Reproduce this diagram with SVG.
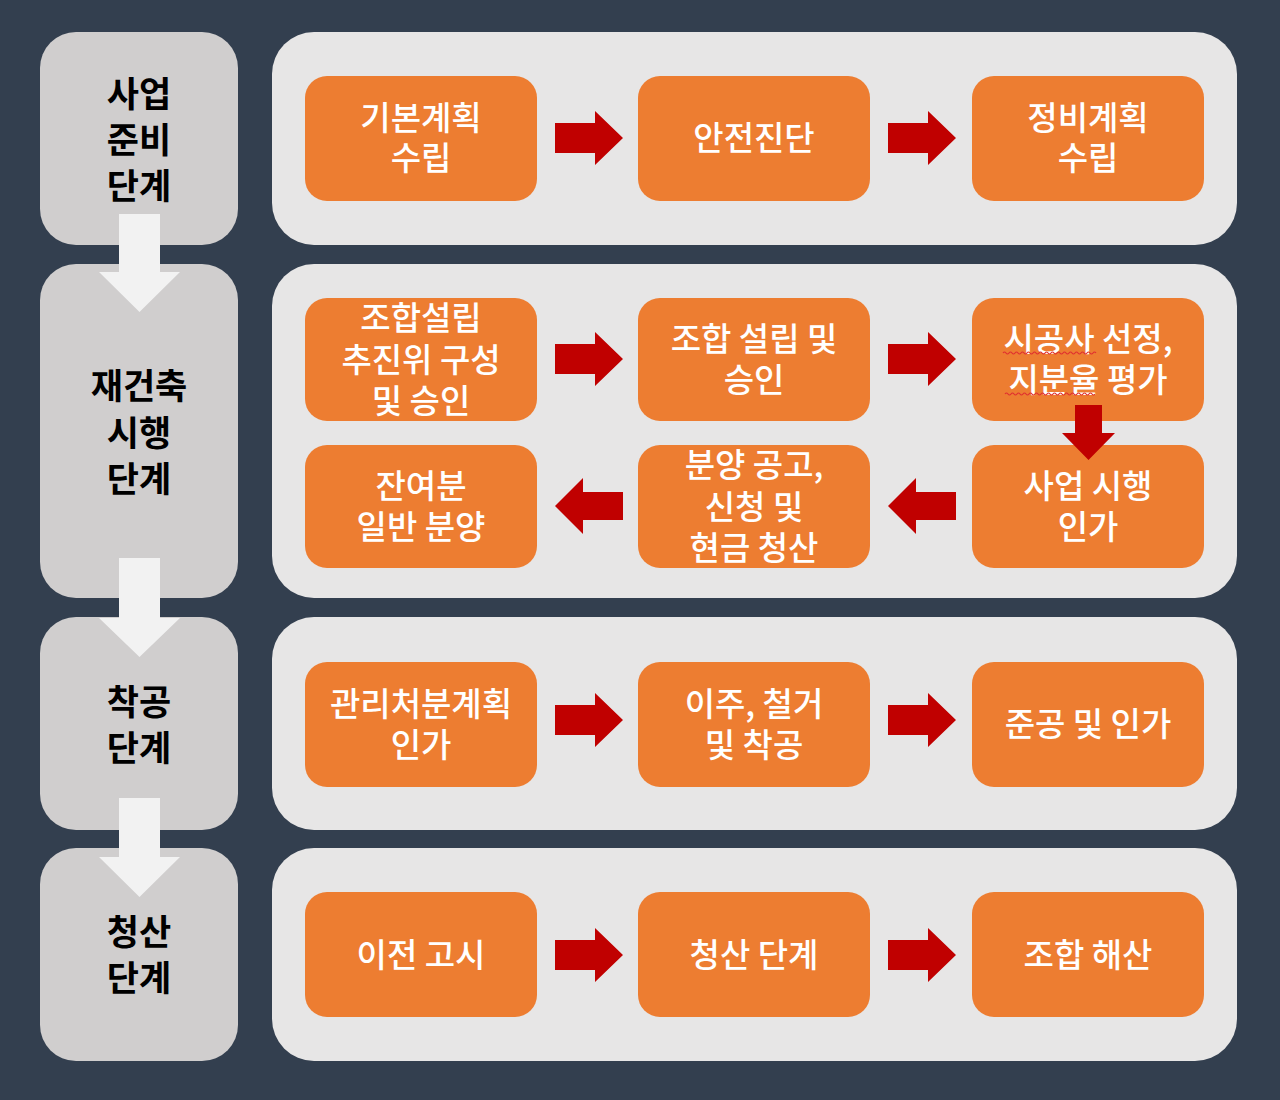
<svg xmlns="http://www.w3.org/2000/svg" width="1280" height="1100" viewBox="0 0 1280 1100">
<style>
.stage{fill:#d0cece}
.panel{fill:#e7e6e6}
.step{fill:#ed7d31}
.lbl{font-family:"Noto Sans CJK KR","Noto Sans",sans-serif;font-weight:700;font-size:35px;fill:#000;text-anchor:middle;dominant-baseline:central}
.txt{font-family:"Noto Sans CJK KR","Noto Sans",sans-serif;font-weight:500;font-size:33px;fill:#fff;text-anchor:middle;dominant-baseline:central}
.red{fill:#c00000}
.gray{fill:#f2f2f2}
.wavy{fill:none;stroke:#e03030;stroke-width:1.2}
</style>
<defs>
<path id="ar" d="M0,-15 H40 V-27 L68,0 L40,27 V15 H0 Z"/>
<path id="al" d="M68,-14 H28 V-28 L0,0 L28,28 V14 H68 Z"/>
</defs>
<rect width="1280" height="1100" fill="#333f4f"/>

<g id="stage-1"><rect class="stage" x="40" y="32" width="198" height="213" rx="36"/>
<text class="lbl" x="139" y="91">사업</text><text class="lbl" x="139" y="137">준비</text><text class="lbl" x="139" y="183">단계</text></g>
<g id="stage-2"><rect class="stage" x="40" y="264" width="198" height="334" rx="36"/>
<text class="lbl" x="139" y="383">재건축</text><text class="lbl" x="139" y="430">시행</text><text class="lbl" x="139" y="476">단계</text></g>
<g id="stage-3"><rect class="stage" x="40" y="617" width="198" height="213" rx="36"/>
<text class="lbl" x="139" y="699">착공</text><text class="lbl" x="139" y="745">단계</text></g>
<g id="stage-4"><rect class="stage" x="40" y="848" width="198" height="213" rx="36"/>
<text class="lbl" x="139" y="929">청산</text><text class="lbl" x="139" y="975">단계</text></g>

<g id="panel-1"><rect class="panel" x="272" y="32" width="965" height="213" rx="42"/></g>
<g id="panel-2"><rect class="panel" x="272" y="264" width="965" height="334" rx="42"/></g>
<g id="panel-3"><rect class="panel" x="272" y="617" width="965" height="213" rx="42"/></g>
<g id="panel-4"><rect class="panel" x="272" y="848" width="965" height="213" rx="42"/></g>

<g id="n-basic-plan"><rect class="step" x="305" y="76" width="232" height="125" rx="22"/>
<text class="txt" x="421" y="116">기본계획</text><text class="txt" x="421" y="156">수립</text></g>
<g id="n-safety"><rect class="step" x="638" y="76" width="232" height="125" rx="22"/>
<text class="txt" x="754" y="136">안전진단</text></g>
<g id="n-redev-plan"><rect class="step" x="972" y="76" width="232" height="125" rx="22"/>
<text class="txt" x="1088" y="116">정비계획</text><text class="txt" x="1088" y="156">수립</text></g>

<g id="n-committee"><rect class="step" x="305" y="298" width="232" height="123" rx="22"/>
<text class="txt" x="421" y="316">조합설립</text><text class="txt" x="421" y="358">추진위 구성</text><text class="txt" x="421" y="399">및 승인</text></g>
<g id="n-union"><rect class="step" x="638" y="298" width="232" height="123" rx="22"/>
<text class="txt" x="754" y="337">조합 설립 및</text><text class="txt" x="754" y="378">승인</text></g>
<g id="n-contractor"><rect class="step" x="972" y="298" width="232" height="123" rx="22"/>
<text class="txt" x="1088" y="337">시공사 선정,</text><text class="txt" x="1088" y="378">지분율 평가</text>
<path class="wavy" d="M1003,353 q1.5,-2 3,0 t3,0 t3,0 t3,0 t3,0 t3,0 t3,0 t3,0 t3,0 t3,0 t3,0 t3,0 t3,0 t3,0 t3,0 t3,0 t3,0 t3,0 t3,0 t3,0 t3,0 t3,0 t3,0 t3,0 t3,0 t3,0 t3,0 t3,0 t3,0 t3,0 t3,0"/>
<path class="wavy" d="M1005,394 q1.5,-2 3,0 t3,0 t3,0 t3,0 t3,0 t3,0 t3,0 t3,0 t3,0 t3,0 t3,0 t3,0 t3,0 t3,0 t3,0 t3,0 t3,0 t3,0 t3,0 t3,0 t3,0 t3,0 t3,0 t3,0 t3,0 t3,0 t3,0 t3,0 t3,0 t3,0"/></g>
<g id="n-remaining"><rect class="step" x="305" y="445" width="232" height="123" rx="22"/>
<text class="txt" x="421" y="484">잔여분</text><text class="txt" x="421" y="525">일반 분양</text></g>
<g id="n-sale"><rect class="step" x="638" y="445" width="232" height="123" rx="22"/>
<text class="txt" x="754" y="463">분양 공고,</text><text class="txt" x="754" y="505">신청 및</text><text class="txt" x="754" y="546">현금 청산</text></g>
<g id="n-approval"><rect class="step" x="972" y="445" width="232" height="123" rx="22"/>
<text class="txt" x="1088" y="484">사업 시행</text><text class="txt" x="1088" y="525">인가</text></g>

<g id="n-disposal"><rect class="step" x="305" y="662" width="232" height="125" rx="22"/>
<text class="txt" x="421" y="702">관리처분계획</text><text class="txt" x="421" y="743">인가</text></g>
<g id="n-relocation"><rect class="step" x="638" y="662" width="232" height="125" rx="22"/>
<text class="txt" x="754" y="702">이주, 철거</text><text class="txt" x="754" y="743">및 착공</text></g>
<g id="n-completion"><rect class="step" x="972" y="662" width="232" height="125" rx="22"/>
<text class="txt" x="1088" y="722">준공 및 인가</text></g>

<g id="n-transfer"><rect class="step" x="305" y="892" width="232" height="125" rx="22"/>
<text class="txt" x="421" y="953">이전 고시</text></g>
<g id="n-liquidation"><rect class="step" x="638" y="892" width="232" height="125" rx="22"/>
<text class="txt" x="754" y="953">청산 단계</text></g>
<g id="n-dissolution"><rect class="step" x="972" y="892" width="232" height="125" rx="22"/>
<text class="txt" x="1088" y="953">조합 해산</text></g>

<g id="connectors">
<path class="gray" d="M119,214 H160 V272 H180 L139.5,312 L99,272 H119 Z"/>
<path class="gray" d="M119,558 H160 V618 H180 L139.5,657 L99,618 H119 Z"/>
<path class="gray" d="M119,798 H160 V857 H180 L139.5,897 L99,857 H119 Z"/>
<use href="#ar" class="red" x="555" y="138"/>
<use href="#ar" class="red" x="888" y="138"/>
<use href="#ar" class="red" x="555" y="359"/>
<use href="#ar" class="red" x="888" y="359"/>
<path class="red" d="M1075,405 H1102 V433 H1115 L1088.5,460 L1062,433 H1075 Z"/>
<use href="#al" class="red" x="888" y="506"/>
<use href="#al" class="red" x="555" y="506"/>
<use href="#ar" class="red" x="555" y="720"/>
<use href="#ar" class="red" x="888" y="720"/>
<use href="#ar" class="red" x="555" y="955"/>
<use href="#ar" class="red" x="888" y="955"/>
</g>
</svg>
